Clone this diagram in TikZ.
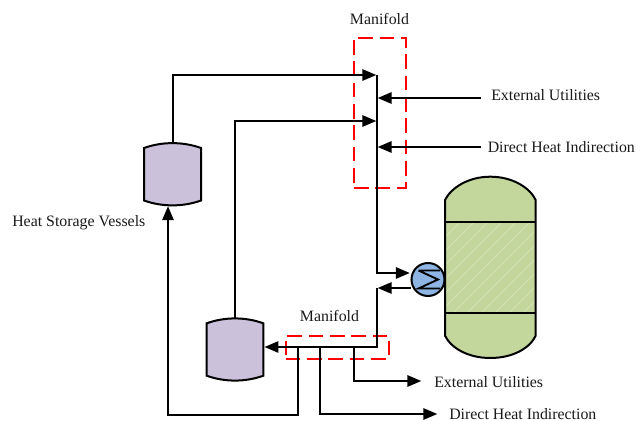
\documentclass[tikz,border=0pt]{standalone}
\usepackage{fontspec}
\setmainfont{Liberation Serif}
\usetikzlibrary{arrows.meta}
\definecolor{vesselfill}{HTML}{CCC1DA}
\definecolor{columnfill}{HTML}{C3D69B}
\definecolor{hxfill}{HTML}{8EB4E3}
\tikzset{
  x=0.75pt,y=-0.75pt,
  flow/.style={line width=1.4pt,-{Triangle[length=10.5pt,width=8.5pt]},shorten >=0.5pt},
  pipe/.style={line width=1.4pt},
  outl/.style={line width=1.5pt,draw=black},
  redbox/.style={draw=red,line width=1.5pt,dash pattern=on 11pt off 5pt},
  lbl/.style={font=\fontsize{11.9pt}{13pt}\selectfont,text=black!90,inner sep=0pt}
}
\begin{document}
\begin{tikzpicture}
\useasboundingbox (0,0) rectangle (636,421);
% vessels
\draw[outl,fill=vesselfill] (144,148) .. controls (162,141.5) and (183,141.5) .. (201,148) -- (201,200.5) .. controls (183,207) and (162,207) .. (144,200.5) -- cycle;
\draw[outl,fill=vesselfill] (206.7,323.3) .. controls (224.7,316.8) and (245.3,316.8) .. (263.3,323.3) -- (263.3,375.7) .. controls (245.3,382.2) and (224.7,382.2) .. (206.7,375.7) -- cycle;
\coordinate (v1top) at (172.9,143);
\coordinate (v1bot) at (168,205.5);
\coordinate (v2top) at (234.9,318);
\coordinate (v2right) at (263.8,347);
% column
\fill[columnfill] (445,200) .. controls (451,188) and (468,176.7) .. (490.3,176.7) .. controls (513,176.7) and (530,188) .. (535.7,200) -- (535.7,335.7) .. controls (530,348) and (513,358) .. (490.3,358) .. controls (468,358) and (451,348) .. (445,335.7) -- cycle;
\begin{scope}
\clip (445,222.3) rectangle (535.7,313.3);
\foreach \s in {-90,-76,...,120}
  \draw[white!40!columnfill,line width=0.4pt] (445+\s,313.3) -- (445+\s+105,208.3);
\end{scope}
\draw[outl] (445,200) .. controls (451,188) and (468,176.7) .. (490.3,176.7) .. controls (513,176.7) and (530,188) .. (535.7,200) -- (535.7,335.7) .. controls (530,348) and (513,358) .. (490.3,358) .. controls (468,358) and (451,348) .. (445,335.7) -- cycle;
\draw[outl] (445,222.3) -- (535.7,222.3);
\draw[outl] (445,313.3) -- (535.7,313.3);
% exchanger
\node[circle,outl,fill=hxfill,minimum size=33pt*0.75,inner sep=0pt] (hx) at (428,279.5) {};
\draw[pipe] (418.5,270.5) -- (440,270.5) (418.5,270.5) -- (438,279.5) -- (418.5,288.5) -- (440,288.5);
% red boxes
\node[redbox,minimum width=51.5*0.75pt,minimum height=150.5*0.75pt,inner sep=0pt] (mtop) at (379.8,112.8) {};
\node[redbox,minimum width=103.3*0.75pt,minimum height=23*0.75pt,inner sep=0pt] (mbot) at (337.3,347.2) {};
% junction coordinates
\coordinate (htop) at (377,75);
\coordinate (hsec) at (377,121);
\coordinate (hbot) at (377,273);
\coordinate (hext) at (377,98);
\coordinate (hdir) at (377,147);
\coordinate (rtn) at (377,288);
\coordinate (rcor) at (377,347);
\coordinate (extS) at (481,98);
\coordinate (dirS) at (481,147);
\coordinate (b1) at (298,347);
\coordinate (b2) at (320,347);
\coordinate (b3) at (354,347);
\coordinate (endA) at (438,414);
\coordinate (endB) at (422,381);
% connectors
\draw[flow] (v1top) |- (htop);
\draw[flow] (v2top) |- (hsec);
\draw[flow] (htop) -- (hbot) -- (hx.west |- hbot);
\draw[flow] (extS) -- (hext);
\draw[flow] (dirS) -- (hdir);
\draw[flow] (hx.west |- rtn) -- (rtn);
\draw[flow] (rtn) -- (rcor) -- (v2right);
\draw[flow] (b1) -- (298,415) -- (168,415) -- (v1bot);
\draw[flow] (b2) |- (endA);
\draw[flow] (b3) |- (endB);
% labels
\node[lbl] (m1) at (379.5,19) {Manifold};
\node[lbl] (m2) at (329.5,316) {Manifold};
\node[lbl,anchor=west] (l1) at (491,95) {External Utilities};
\node[lbl,anchor=west] (l2) at (487.5,147) {Direct Heat Indirection};
\node[lbl,anchor=west] (l3) at (434,382) {External Utilities};
\node[lbl,anchor=west] (l4) at (449,414) {Direct Heat Indirection};
\node[lbl,anchor=west] (l5) at (12,223) {Heat Storage Vessels};
\end{tikzpicture}
\end{document}
